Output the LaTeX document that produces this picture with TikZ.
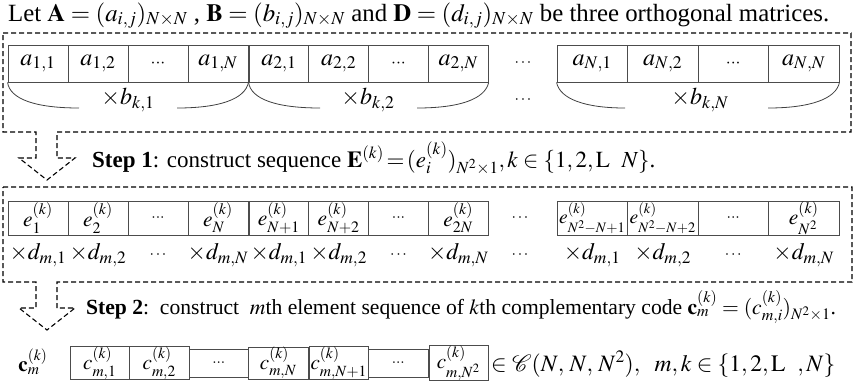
\documentclass[tikz,border=0pt]{standalone}
\usepackage{mathptmx}
\usepackage[no-math]{fontspec}
\setmainfont{Liberation Serif}
\begin{document}
\begin{tikzpicture}[x=1pt,y=-1pt,
  cellA/.style={draw=black!70,line width=0.9pt,inner sep=0pt,minimum height=37pt,font=\fontsize{24}{24}\selectfont},
  cellE/.style={draw=black!70,line width=0.9pt,inner sep=0pt,minimum height=34pt,font=\fontsize{21.5}{21.5}\selectfont},
  cellEs/.style={cellE,font=\fontsize{19.5}{19.5}\selectfont},
  cellC/.style={draw=black!70,line width=0.9pt,inner sep=0pt,minimum height=28pt,font=\fontsize{21}{21}\selectfont},
  mulB/.style={inner sep=0pt,font=\fontsize{24}{24}\selectfont},
  mulD/.style={inner sep=0pt,font=\fontsize{23.5}{23.5}\selectfont},
  dots/.style={inner sep=0pt,font=\fontsize{16}{16}\selectfont},
  txt/.style={inner sep=0pt,anchor=base west},
  dsh/.style={draw=black,line width=1.1pt,dash pattern=on 5pt off 3pt},
  brc/.style={draw=black!75,line width=0.8pt}]
\useasboundingbox (0,0) rectangle (856,381);

% title
\node[txt,font=\fontsize{24.8}{24.8}\selectfont] (title) at (8,21)
  {Let $\mathbf{A}=(a_{i,j})_{N\times N}$ , $\mathbf{B}=(b_{i,j})_{N\times N}$ and $\mathbf{D}=(d_{i,j})_{N\times N}$ be three orthogonal matrices.};

% box 1 with arrow
\draw[dsh] (3,33) -- (851,33) -- (851,132) -- (57,132) -- (57,158) -- (75,158) -- (47,180) -- (19,158) -- (36,158) -- (36,132) -- (3,132) -- cycle;

% row 1 cells
\node[cellA,minimum width=60pt] (a11) at (38,63.5) {$a_{1,1}$};
\node[cellA,minimum width=60pt] (a12) at (98,63.5) {$a_{1,2}$};
\node[cellA,minimum width=60pt] (a13) at (158,63.5) {$\scriptstyle\cdots$};
\node[cellA,minimum width=60pt] (a14) at (218,63.5) {$a_{1,N}$};
\node[cellA,minimum width=59.8pt] (a21) at (278.9,63.5) {$a_{2,1}$};
\node[cellA,minimum width=59.8pt] (a22) at (338.7,63.5) {$a_{2,2}$};
\node[cellA,minimum width=59.8pt] (a23) at (398.5,63.5) {$\scriptstyle\cdots$};
\node[cellA,minimum width=59.8pt] (a24) at (458.3,63.5) {$a_{2,N}$};
\node[dots] (ad) at (523,63.5) {$\cdots$};
\node[cellA,minimum width=70.5pt] (aN1) at (592.25,63.5) {$a_{N,1}$};
\node[cellA,minimum width=70.5pt] (aN2) at (662.75,63.5) {$a_{N,2}$};
\node[cellA,minimum width=70.5pt] (aN3) at (733.25,63.5) {$\scriptstyle\cdots$};
\node[cellA,minimum width=70.5pt] (aN4) at (803.75,63.5) {$a_{N,N}$};

% braces and multipliers
\node[mulB] (b1) at (128,100) {$\times b_{k,1}$};
\node[mulB] (b2) at (368,100) {$\times b_{k,2}$};
\node[dots] (bd) at (523,100) {$\cdots$};
\node[mulB] (bN) at (700,100) {$\times b_{k,N}$};
\draw[brc] (a11.south west) .. controls (10,99) and (35,108) .. (79,108);
\draw[brc] (177,108) .. controls (220,108) and (245,99) .. (a14.south east);
\draw[brc] (a21.south west) .. controls (251,99) and (276,108) .. (320,108);
\draw[brc] (417,108) .. controls (460,108) and (485,99) .. (a24.south east);
\draw[brc] (aN1.south west) .. controls (560,99) and (585,108) .. (625,108);
\draw[brc] (768,108) .. controls (810,108) and (836,99) .. (aN4.south east);

% step 1
\node[txt,font=\fontsize{23}{23}\selectfont] (s1) at (92,167)
  {\textbf{Step 1}: construct sequence $\mathbf{E}^{(k)}\!=\!(e_i^{(k)})_{N^2\times1}, k\in\{1,2,\mathrm{L}\ \ N\}$.};

% box 2 with arrow
\draw[dsh] (3,187) -- (852,187) -- (852,282) -- (57,282) -- (57,308) -- (75,308) -- (47,330) -- (19,308) -- (36,308) -- (36,282) -- (3,282) -- cycle;

% row 2 cells
\node[cellE,minimum width=60pt] (e1) at (38,218) {$e_1^{(k)}$};
\node[cellE,minimum width=60pt] (e2) at (98,218) {$e_2^{(k)}$};
\node[cellE,minimum width=60pt] (e3) at (158,218) {$\scriptstyle\cdots$};
\node[cellE,minimum width=60pt] (e4) at (218,218) {$e_N^{(k)}$};
\node[cellE,minimum width=59.8pt] (e5) at (278.9,218) {$e_{N+1}^{(k)}$};
\node[cellE,minimum width=59.8pt] (e6) at (338.7,218) {$e_{N+2}^{(k)}$};
\node[cellE,minimum width=59.8pt] (e7) at (398.5,218) {$\scriptstyle\cdots$};
\node[cellE,minimum width=59.8pt] (e8) at (458.3,218) {$e_{2N}^{(k)}$};
\node[dots] (ed) at (520,218) {$\cdots$};
\node[cellEs,minimum width=70.5pt] (e9) at (592.25,218) {$e_{N^2-N+1}^{(k)}$};
\node[cellEs,minimum width=70.5pt] (e10) at (662.75,218) {$e_{N^2-N+2}^{(k)}$};
\node[cellE,minimum width=70.5pt] (e11) at (733.25,218) {$\scriptstyle\cdots$};
\node[cellE,minimum width=70.5pt] (e12) at (803.75,218) {$e_{N^2}^{(k)}$};

% d multipliers
\node[mulD] (d1) at (38,255) {$\times d_{m,1}$};
\node[mulD] (d2) at (98,255) {$\times d_{m,2}$};
\node[dots] (d3) at (158,255) {$\cdots$};
\node[mulD] (d4) at (218,255) {$\times d_{m,N}$};
\node[mulD] (d5) at (278.9,255) {$\times d_{m,1}$};
\node[mulD] (d6) at (338.7,255) {$\times d_{m,2}$};
\node[dots] (d7) at (398.5,255) {$\cdots$};
\node[mulD] (d8) at (458.3,255) {$\times d_{m,N}$};
\node[dots] (dd) at (520,255) {$\cdots$};
\node[mulD] (d9) at (592.25,255) {$\times d_{m,1}$};
\node[mulD] (d10) at (662.75,255) {$\times d_{m,2}$};
\node[dots] (d11) at (733.25,255) {$\cdots$};
\node[mulD] (d12) at (803.75,255) {$\times d_{m,N}$};

% step 2
\node[txt,font=\fontsize{21.6}{21.6}\selectfont] (s2) at (86,314)
  {\textbf{Step 2}:\ \ construct\ \ $m$th element sequence of $k$th complementary code $\mathbf{c}_m^{(k)}=(c_{m,i}^{(k)})_{N^2\times1}$.};

% row 3
\node[inner sep=0pt,font=\fontsize{21}{21}\selectfont] (cm) at (33,362) {$\mathbf{c}_m^{(k)}$};
\node[cellC,minimum width=59.5pt] (c1) at (99.75,363) {$c_{m,1}^{(k)}$};
\node[cellC,minimum width=59.5pt] (c2) at (159.25,363) {$c_{m,2}^{(k)}$};
\node[cellC,minimum width=59.5pt] (c3) at (218.75,363) {$\scriptstyle\cdots$};
\node[cellC,minimum width=59.5pt] (c4) at (278.25,363) {$c_{m,N}^{(k)}$};
\node[cellC,minimum width=59.5pt] (c5) at (338.75,363) {$c_{m,N+1}^{(k)}$};
\node[cellC,minimum width=59.5pt] (c6) at (398.25,363) {$\scriptstyle\cdots$};
\node[cellC,minimum width=59pt] (c7) at (458.5,363) {$c_{m,N^2}^{(k)}$};
\node[txt,font=\fontsize{23.5}{23.5}\selectfont] (fin) at (491,371)
  {$\in\mathcal{C}(N,\,N,\,N^2),\ \ m,k\in\{1,2,\mathrm{L}\ \ ,N\}$};
\end{tikzpicture}
\end{document}
